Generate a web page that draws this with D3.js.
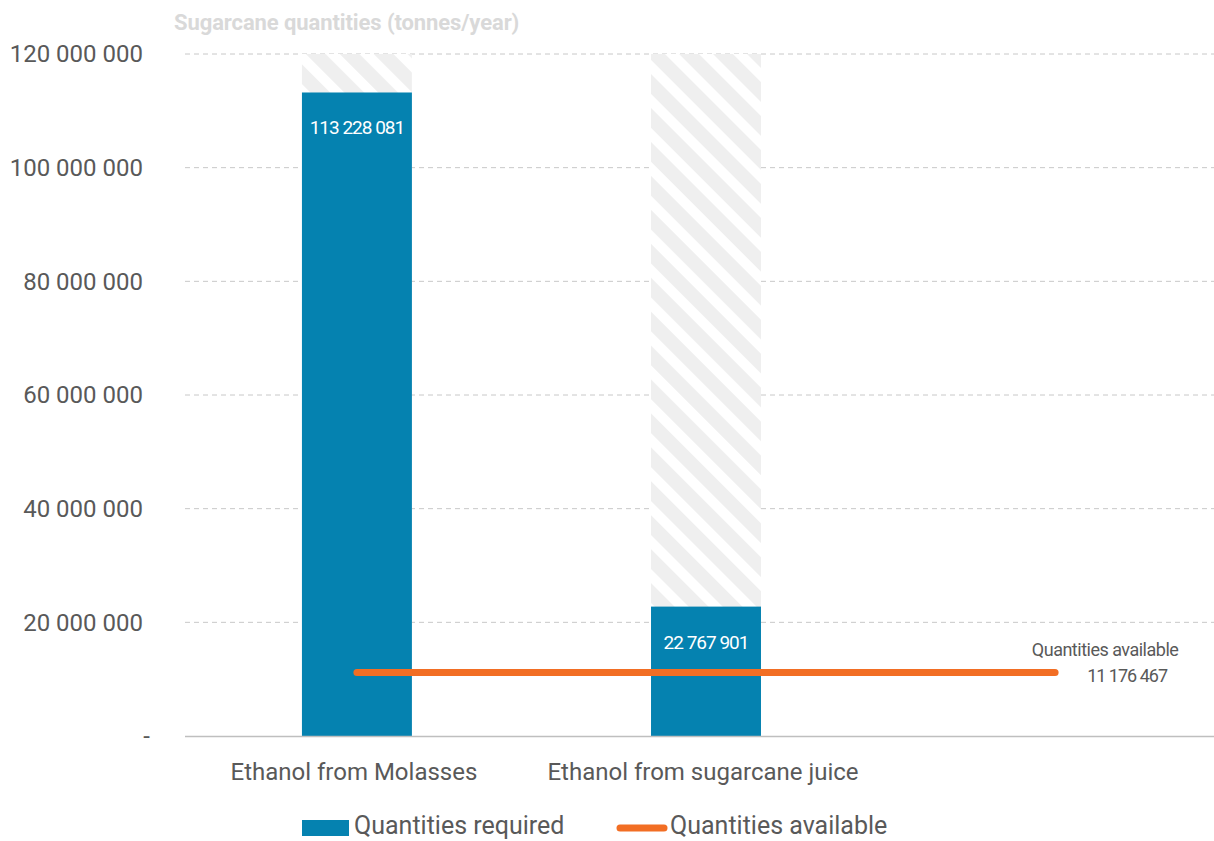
<!DOCTYPE html>
<html><head><meta charset="utf-8">
<script src="https://cdn.jsdelivr.net/npm/d3@7"></script>
<style>body{margin:0;background:#fff;}svg{display:block;font-family:Roboto, sans-serif;}</style>
</head><body>
<svg id="c" width="1214" height="841"></svg>
<script>
const categories = ["Ethanol from Molasses", "Ethanol from sugarcane juice", ""];
const required = [113228081, 22767901, null];
const available = [11176467, 11176467, 11176467];
const yTicks = [0, 20000000, 40000000, 60000000, 80000000, 100000000, 120000000];
const legendLabels = ["Quantities required", "Quantities available"];
const title = "Sugarcane quantities (tonnes/year)";

const svg = d3.select("#c");
const m = {l:185, r:1214, t:54, b:736};
const x = d3.scaleBand().domain(categories).range([m.l, 1227]).paddingInner(0.685).paddingOuter(0.335);
const y = d3.scaleLinear().domain([0, 120000000]).range([m.b, m.t]);
const fmt = v => v === 0 ? "-" : d3.format(",")(v).replace(/,/g, " ");

// pattern
const defs = svg.append("defs");
const pat = defs.append("pattern").attr("id","hatch").attr("patternUnits","userSpaceOnUse")
  .attr("width", 24).attr("height", 24).attr("patternTransform","rotate(-45)");
pat.append("rect").attr("width",24).attr("height",24).attr("fill","#efefef");
pat.append("rect").attr("x",0).attr("width",10).attr("height",24).attr("fill","#ffffff");

// title
svg.append("text").attr("x", 174).attr("y", 30).attr("font-size", 22).attr("font-weight","bold")
  .attr("fill","#d9d9d9").attr("letter-spacing","-0.1").text(title);

// grid
svg.append("g").selectAll("line").data(yTicks.filter(d=>d>0)).join("line")
  .attr("x1", m.l).attr("x2", m.r).attr("y1", d=>y(d)).attr("y2", d=>y(d))
  .attr("stroke","#c8c8c8").attr("stroke-dasharray","5,4").attr("stroke-width",1);

// y labels
const yAxis = d3.axisLeft(y).tickValues(yTicks).tickFormat(fmt).tickSize(0).tickPadding(0);
const ya = svg.append("g").attr("transform", `translate(143,0)`).call(yAxis);
ya.select(".domain").remove();
ya.selectAll("text").attr("font-size", 24).attr("fill","#595959").attr("font-family","Roboto, sans-serif");
ya.selectAll(".tick").filter(d=>d===0).select("text").attr("dx", 7);

// background hatched bars
const bw = x.bandwidth();
svg.append("g").selectAll("rect").data(categories.filter((c,i)=>required[i]!=null)).join("rect")
  .attr("x", d=>x(d)).attr("width", bw).attr("y", y(120000000)).attr("height", y(0)-y(120000000))
  .attr("fill","url(#hatch)");

// bars
const bars = categories.map((c,i)=>({c, v: required[i]})).filter(d=>d.v!=null);
svg.append("g").selectAll("rect").data(bars).join("rect")
  .attr("x", d=>x(d.c)).attr("width", bw).attr("y", d=>y(d.v)).attr("height", d=>y(0)-y(d.v))
  .attr("fill","#0582b0");
svg.append("g").selectAll("text").data(bars).join("text")
  .attr("x", d=>x(d.c)+bw/2).attr("y", d=>y(d.v)+42).attr("text-anchor","middle")
  .attr("font-size", 19).attr("fill","#fff").attr("letter-spacing","-1").text(d=>fmt(d.v));

// x axis
svg.append("line").attr("x1", m.l).attr("x2", m.r).attr("y1", y(0)+0.5).attr("y2", y(0)+0.5)
  .attr("stroke","#bfbfbf").attr("stroke-width",1.5);
svg.append("g").selectAll("text").data(categories).join("text")
  .attr("x", d=>x(d)+bw/2-3).attr("y", 780).attr("text-anchor","middle")
  .attr("font-size", 24).attr("fill","#595959").text(d=>d);

// line
const line = d3.line().x((d,i)=>x(categories[i])+bw/2).y(d=>y(d));
svg.append("path").datum(available).attr("d", line).attr("fill","none")
  .attr("stroke","#f26e24").attr("stroke-width",7).attr("stroke-linecap","round");
const lastX = x(categories[2])+bw/2;
const ann = svg.append("text").attr("text-anchor","middle").attr("font-size",18).attr("fill","#595959")
  .attr("letter-spacing","-0.5");
ann.append("tspan").attr("x", lastX+50).attr("y", 656).text("Quantities available");
ann.append("tspan").attr("x", lastX+72).attr("y", 682).attr("letter-spacing","-1").text(fmt(available[2]));

// legend
const lg = svg.append("g");
lg.append("rect").attr("x",302).attr("y",820).attr("width",47).attr("height",16).attr("fill","#0582b0");
lg.append("text").attr("x",354).attr("y",834).attr("font-size",25).attr("fill","#595959").text(legendLabels[0]);
lg.append("line").attr("x1",620).attr("x2",664).attr("y1",828).attr("y2",828)
  .attr("stroke","#f26e24").attr("stroke-width",7).attr("stroke-linecap","round");
lg.append("text").attr("x",670).attr("y",834).attr("font-size",25).attr("fill","#595959").text(legendLabels[1]);
</script>
</body></html>
